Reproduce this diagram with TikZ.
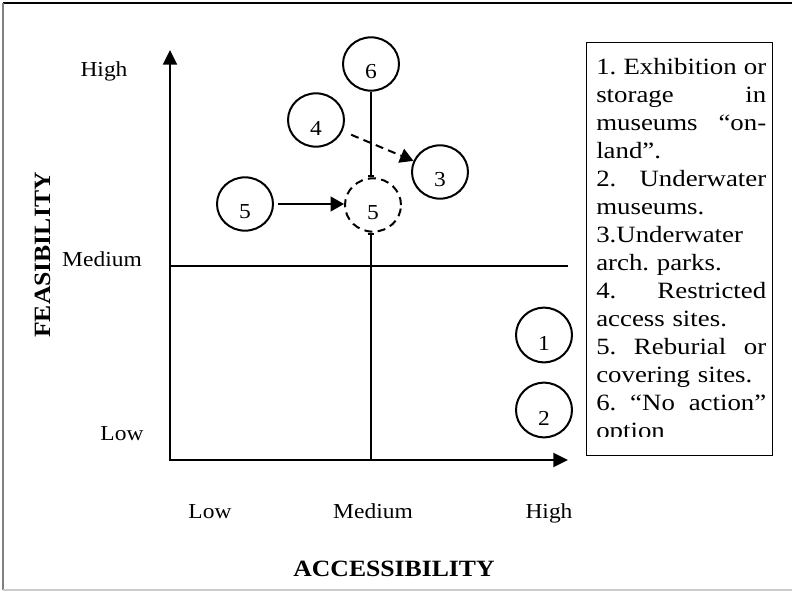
\documentclass[tikz,border=0pt]{standalone}
\usepackage{fontspec}
\setmainfont[FakeStretch=1.1]{Liberation Serif}
\newfontfamily\legfont[FakeStretch=1.15]{Liberation Serif}
\usetikzlibrary{arrows.meta,shapes.geometric}
\frenchspacing

\newlength\legw
\setlength\legw{127.5pt}
% a justified legend line: words spread over the full width
\newcommand\jline[1]{\makebox[\legw][l]{#1}}

\begin{document}
\begin{tikzpicture}[x=0.75pt,y=-0.75pt,
  axis/.style={line width=1.6pt},
  zone/.style={draw,ellipse,line width=1.5pt,minimum width=42pt,minimum height=40pt,inner sep=0pt},
  dzone/.style={zone,dash pattern=on 6pt off 4pt},
  lvl/.style={font=\fontsize{16}{19}\selectfont,anchor=base,inner sep=0pt},
  axtitle/.style={font=\fontsize{17.5}{21}\selectfont\bfseries,anchor=base,inner sep=0pt},
  num/.style={font=\fontsize{16}{19}\selectfont,inner sep=0pt},
  link/.style={line width=1.5pt},
  tip/.style={-{Triangle[length=10pt,width=11pt]}},
  axtip/.style={{Triangle[length=11pt,width=10.5pt]}-{Triangle[length=11pt,width=10.5pt]}},
]
\useasboundingbox (0,0) rectangle (792,592);

% page frame
\draw[line width=0.8pt] (3,3) -- (792,3);
\draw[gray,line width=0.8pt] (3,3) -- (3,590);
\draw[gray!40,line width=0.8pt] (3,590) -- (792,590);

% axes
\coordinate (O) at (170,460);
\coordinate (ytop) at (170,50);
\coordinate (xend) at (568,460);
\coordinate (mleft) at (170,266);
\coordinate (mright) at (568,266);
\coordinate (mbot) at (371,460);
\draw[axis,axtip] (ytop) -- (O) -- (xend);
\draw[axis] (mleft) -- (mright);

% level labels
\node[lvl] (yhigh) at (104,76) {High};
\node[lvl] (ymed) at (102,266) {Medium};
\node[lvl] (ylow) at (122,440) {Low};
\node[lvl] (xlow) at (210,518) {Low};
\node[lvl] (xmed) at (373,518) {Medium};
\node[lvl] (xhigh) at (549,518) {High};

% axis titles
\node[axtitle] (acc) at (394,576) {ACCESSIBILITY};
\node[axtitle,rotate=90] (fea) at (50,255) {FEASIBILITY};

% options
\node[zone,label={[num,yshift=-6pt]center:6}] (c6) at (371,64) {};
\node[zone,label={[num,yshift=-6pt]center:4}] (c4) at (316,120) {};
\node[zone,label={[num,yshift=-6pt]center:3}] (c3) at (440,172) {};
\node[zone,label={[num,yshift=-6pt]center:5}] (c5L) at (245,204) {};
\node[dzone,label={[num,yshift=-6pt]center:5}] (c5d) at (373,205) {};
\node[zone,minimum height=41pt,label={[num,yshift=-6pt]center:1}] (c1) at (544,335) {};
\node[zone,minimum height=41pt,label={[num,yshift=-6pt]center:2}] (c2) at (544,410) {};

% connectors
\draw[link,-{Bar[width=5pt]}] (c6.south) -- (c6.south |- c5d.north);
\draw[link,{Bar[width=5pt]}-] (c6.south |- c5d.south) -- (mbot);
\draw[link,tip,shorten <=3pt] (c5L.east) -- (c5L.east -| c5d.west);
\draw[link,tip,dash pattern=on 6pt off 4pt,shorten <=7pt] (c4) -- (c3);

% legend
\node[draw,line width=0.8pt,anchor=north west,inner sep=0pt,
      minimum width=139.5pt,minimum height=309.75pt] (legbox) at (586,42) {};
\begin{scope}
\clip (586,42) rectangle (772,436);
\node[anchor=north west,inner sep=0pt,text width=\legw,align=left,
      font=\legfont\fontsize{17.5}{21}\selectfont\frenchspacing] (legtext) at (596,58) {%
\jline{1.\hfill Exhibition\hfill or}\\
\jline{storage\hfill in}\\
\jline{museums\hfill “on-}\\
land”.\\
\jline{2.\hfill Underwater}\\
museums.\\
3.Underwater\\
arch. parks.\\
\jline{4.\hfill Restricted}\\
access sites.\\
\jline{5.\hfill Reburial\hfill or}\\
covering sites.\\
\jline{6.\hfill “No\hfill action”}\\
option};
\end{scope}
\end{tikzpicture}
\end{document}
